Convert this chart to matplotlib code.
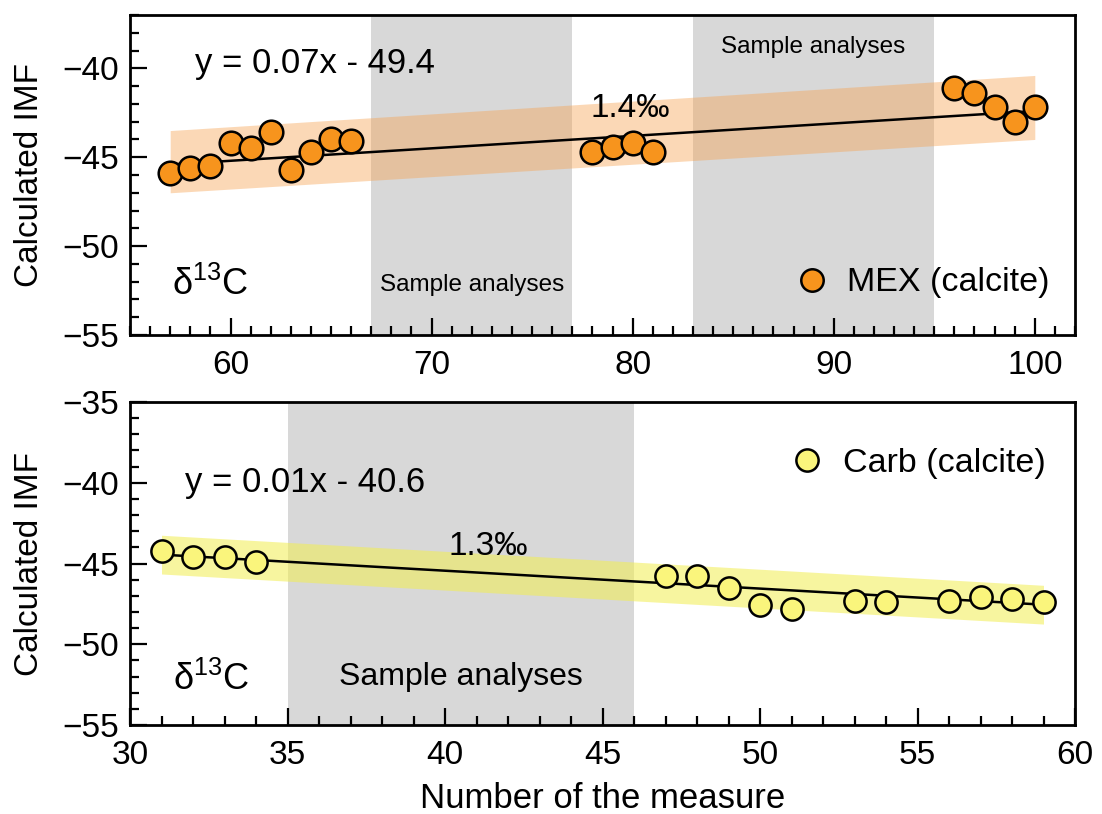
import matplotlib
matplotlib.use("Agg")
import matplotlib.pyplot as plt
from matplotlib.ticker import MultipleLocator
import numpy as np

plt.rcParams['font.family'] = ['Liberation Sans', 'DejaVu Sans']
plt.rcParams['mathtext.fontset'] = 'custom'
plt.rcParams['mathtext.rm'] = 'Liberation Sans'
plt.rcParams['mathtext.it'] = 'Liberation Sans:italic'

# ---------------- data: top panel (MEX calcite) ----------------
mex_x = [57, 58, 59, 60, 61, 62, 63, 64, 65, 66, 78, 79, 80, 81, 96, 97, 98, 99, 100]
mex_y = [-45.9, -45.6, -45.5, -44.2, -44.5, -43.6, -45.7, -44.7, -44.0, -44.1,
         -44.7, -44.4, -44.2, -44.7, -41.1, -41.4, -42.2, -43.0, -42.2]
mex_slope, mex_intercept = 0.07, -49.4
mex_band_x = [57, 100]
mex_band_lo = [-47.0, -44.0]
mex_band_hi = [-43.5, -40.4]
mex_spans = [(67, 77), (83, 95)]
mex_eq = "y = 0.07x - 49.4"
mex_err = "1.4‰"
mex_label = "MEX (calcite)"

# ---------------- data: bottom panel (Carb calcite) ----------------
carb_x = [31, 32, 33, 34, 47, 48, 49, 50, 51, 53, 54, 56, 57, 58, 59]
carb_y = [-44.2, -44.6, -44.6, -44.9, -45.8, -45.8, -46.5, -47.6, -47.8,
          -47.3, -47.4, -47.3, -47.1, -47.2, -47.4]
carb_fit_x = [31, 59]
carb_fit_y = [-44.45, -47.55]
carb_band_x = [31, 59]
carb_band_lo = [-45.65, -48.75]
carb_band_hi = [-43.25, -46.35]
carb_spans = [(35, 46)]
carb_eq = "y = 0.01x - 40.6"
carb_err = "1.3‰"
carb_label = "Carb (calcite)"

W, H = 1102, 814
fig = plt.figure(figsize=(W / 100, H / 100), dpi=100)
L, R = 130, 1075
ax1 = fig.add_axes([L / W, 1 - 335 / H, (R - L) / W, 320 / H])
ax2 = fig.add_axes([L / W, 1 - 725 / H, (R - L) / W, 323 / H])

grey = '#d8d8d8'
FS = 24


def style(ax):
    for s in ax.spines.values():
        s.set_linewidth(2.0)
    ax.xaxis.set_minor_locator(MultipleLocator(1))
    ax.yaxis.set_minor_locator(MultipleLocator(1))
    ax.yaxis.set_major_locator(MultipleLocator(5))
    ax.tick_params(which='both', direction='in', top=False, right=False, width=1.6)
    ax.tick_params(which='major', length=12.5)
    ax.tick_params(which='minor', length=6.5)
    ax.tick_params(axis='x', labelsize=FS, pad=11)
    ax.tick_params(axis='y', labelsize=FS, pad=8)
    ax.set_ylabel("Calculated IMF", fontsize=FS, labelpad=12)


# ---------- top ----------
for a, b in mex_spans:
    ax1.axvspan(a, b, color=grey, lw=0, zorder=0)
ax1.fill_between(mex_band_x, mex_band_lo, mex_band_hi, color='#f7a352', alpha=0.42, lw=0, zorder=1)
fx = np.array([min(mex_x), max(mex_x)])
ax1.plot(fx, mex_slope * fx + mex_intercept, color='black', lw=1.8, zorder=2)
ax1.plot(mex_x, mex_y, 'o', ms=17, mfc='#f7941d', mec='black', mew=1.8, zorder=3, label=mex_label)
ax1.set_xlim(55, 102)
ax1.set_ylim(-55, -37)
ax1.xaxis.set_major_locator(MultipleLocator(10))
style(ax1)
ax1.text(64.2, -39.7, mex_eq, fontsize=25, ha='center', va='center')
ax1.text(79.9, -42.25, mex_err, fontsize=24, ha='center', va='center')
ax1.text(89.0, -38.8, "Sample analyses", fontsize=17.5, ha='center', va='center')
ax1.text(72.0, -52.2, "Sample analyses", fontsize=17.5, ha='center', va='center')
ax1.text(57.1, -52.2, r"δ$^{13}$C", fontsize=26, ha='left', va='center')
ax1.legend(loc='center right', bbox_to_anchor=(0.9735, 0.1625), frameon=False,
           fontsize=24.5, handlelength=1.0, handletextpad=0.55, borderpad=0,
           borderaxespad=0, markerscale=0.95)

# ---------- bottom ----------
for a, b in carb_spans:
    ax2.axvspan(a, b, color=grey, lw=0, zorder=0)
ax2.fill_between(carb_band_x, carb_band_lo, carb_band_hi, color='#f2ee50', alpha=0.55, lw=0, zorder=1)
ax2.plot(carb_fit_x, carb_fit_y, color='black', lw=1.8, zorder=2)
ax2.plot(carb_x, carb_y, 'o', ms=16, mfc='#faf57c', mec='black', mew=1.8, zorder=3, label=carb_label)
ax2.set_xlim(30, 60)
ax2.set_ylim(-55, -35)
ax2.xaxis.set_major_locator(MultipleLocator(5))
style(ax2)
ax2.set_xlabel("Number of the measure", fontsize=25, labelpad=8)
ax2.text(35.57, -40.0, carb_eq, fontsize=25, ha='center', va='center')
ax2.text(41.36, -43.95, carb_err, fontsize=24, ha='center', va='center')
ax2.text(40.5, -52.0, "Sample analyses", fontsize=23, ha='center', va='center')
ax2.text(31.36, -52.2, r"δ$^{13}$C", fontsize=26, ha='left', va='center')
ax2.legend(loc='center right', bbox_to_anchor=(0.969, 0.811), frameon=False,
           fontsize=24.5, handlelength=1.0, handletextpad=0.55, borderpad=0,
           borderaxespad=0, markerscale=1.0)

fig.savefig("out.png", dpi=100)
